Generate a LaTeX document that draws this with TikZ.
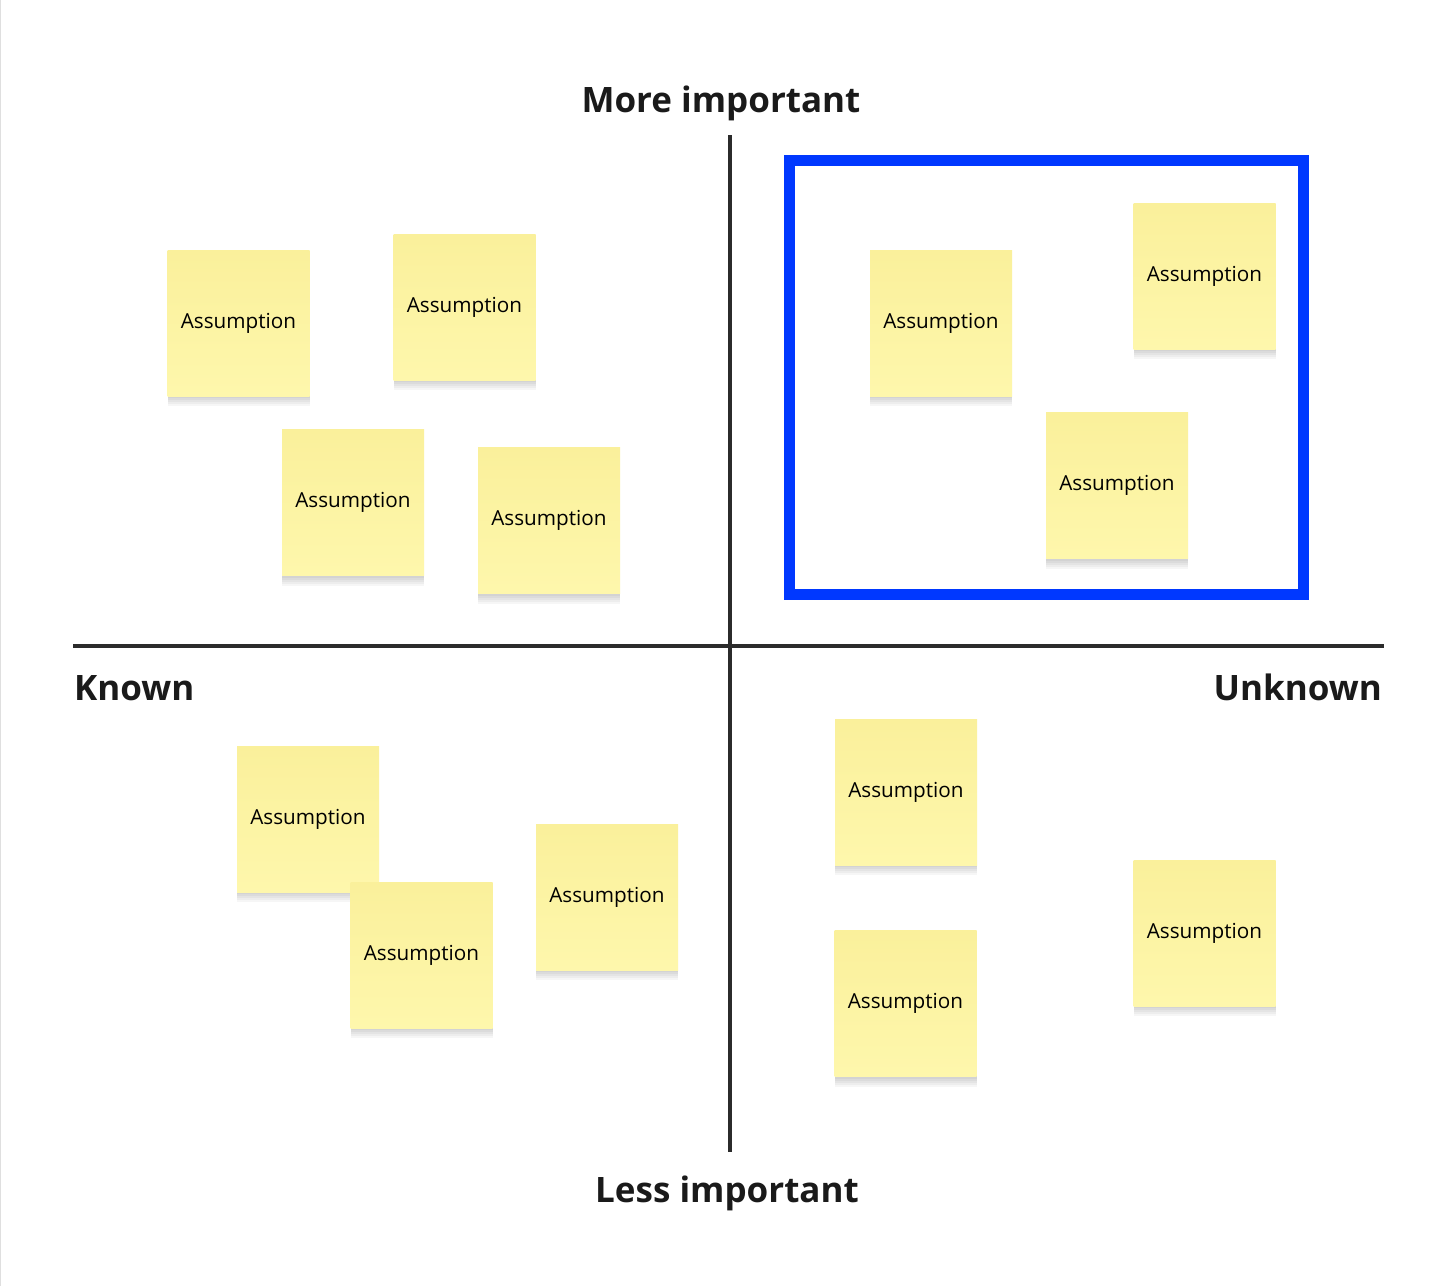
\documentclass[tikz,border=0pt]{standalone}
\usepackage{fontspec}
\setmainfont{Open Sans}
\definecolor{notetop}{RGB}{250,240,155}
\definecolor{notebot}{RGB}{254,247,172}
\definecolor{boxblue}{RGB}{0,56,255}
\definecolor{axis}{RGB}{43,43,43}
\definecolor{labelc}{RGB}{26,26,26}
\tikzset{
  shadowlayer/.style={preaction={fill=black, fill opacity=0.035, transform canvas={yshift=-#1pt}}},
  note/.style={rectangle, minimum width=142pt, minimum height=146pt, inner sep=0pt,
    shadowlayer=2, shadowlayer=4, shadowlayer=6, shadowlayer=8, shadowlayer=10,
    top color=notetop, bottom color=notebot, draw=none,
    font=\fontsize{20.7}{24}\selectfont, text=black},
  axisline/.style={draw=axis, line width=4pt},
  biglabel/.style={font=\fontsize{35}{40}\selectfont\bfseries, text=labelc, inner sep=0pt},
  focusbox/.style={draw=boxblue, line width=11pt}
}
\begin{document}
\begin{tikzpicture}[x=1pt,y=-1pt]
\useasboundingbox (0,0) rectangle (1456,1286);
\fill[white] (0,0) rectangle (1456,1286);
\draw[gray!25, line width=1pt] (0.5,0) -- (0.5,1286);
% axes
\coordinate (vt) at (730,135);
\coordinate (vb) at (730,1152);
\coordinate (hl) at (73,646);
\coordinate (hr) at (1384,646);
\draw[axisline] (vt) -- (vb);
\draw[axisline] (hl) -- (hr);
% labels
\node[biglabel, anchor=base] (more) at (721,112) {More important};
\node[biglabel, anchor=base] (less) at (727,1202) {Less important};
\node[biglabel, anchor=base west] (known) at (74,700) {Known};
\node[biglabel, anchor=base east] (unknown) at (1382,700) {Unknown};
% focus box
\draw[focusbox] (789.5,160.5) rectangle (1303.5,594.5);
% notes
\node[note] (n1) at (238.5,323) {Assumption};
\node[note] (n2) at (464.5,307) {Assumption};
\node[note] (n3) at (353,502.5) {Assumption};
\node[note] (n4) at (549,520.5) {Assumption};
\node[note] (n5) at (941,323) {Assumption};
\node[note] (n6) at (1204.5,276) {Assumption};
\node[note] (n7) at (1117,485.5) {Assumption};
\node[note] (n8) at (308,819) {Assumption};
\node[note] (n9) at (421.5,955) {Assumption};
\node[note] (n10) at (607,897) {Assumption};
\node[note] (n11) at (906,792) {Assumption};
\node[note] (n12) at (905.5,1003.5) {Assumption};
\node[note] (n13) at (1204.5,933) {Assumption};
\end{tikzpicture}
\end{document}
